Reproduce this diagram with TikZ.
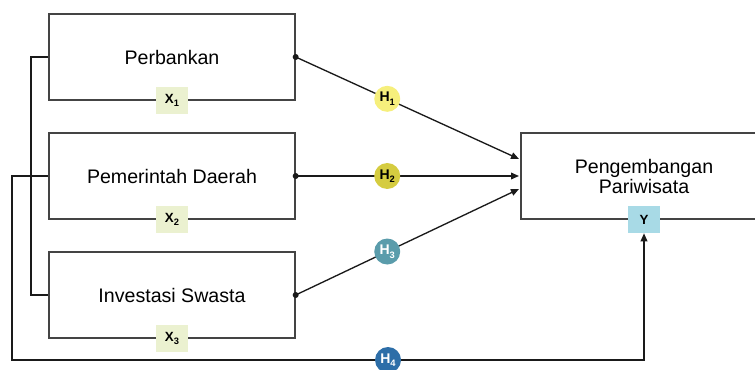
\documentclass[tikz,border=0pt]{standalone}
\usepackage{fontspec}
\setmainfont{Liberation Sans}
\usetikzlibrary{arrows.meta}
\definecolor{lineC}{HTML}{1A1A1A}
\definecolor{boxC}{HTML}{444444}
\definecolor{xlab}{HTML}{EBF1D0}
\definecolor{ylab}{HTML}{A8DAE6}
\definecolor{hA}{HTML}{F6EF7C}
\definecolor{hB}{HTML}{D5CC40}
\definecolor{hC}{HTML}{5A9CAB}
\definecolor{hD}{HTML}{2D6EA8}
\newcommand{\sbs}[1]{\raisebox{-0.25em}{\fontsize{7}{8}\selectfont #1}}
\tikzset{
  varbox/.style={draw=boxC, line width=1pt, minimum width=184.5pt, minimum height=64.5pt, inner sep=0pt, font=\fontsize{14.7}{17}\selectfont, align=center},
  lab/.style={minimum width=24pt, minimum height=20pt, inner sep=0pt, font=\bfseries\fontsize{10}{11}\selectfont},
  hcirc/.style={circle, minimum size=19.5pt, inner sep=0pt, font=\bfseries\fontsize{10.5}{11}\selectfont},
  conn/.style={lineC, line width=1pt},
  arr/.style={conn, -{Triangle[length=6pt,width=5pt]}},
  dotc/.style={circle, fill=lineC, inner sep=0pt, minimum size=4.5pt}
}
\begin{document}
\begin{tikzpicture}[x=0.75pt,y=-0.75pt]
\useasboundingbox (0,0) rectangle (755,370);
\clip (0,0) rectangle (755,370);
% boxes
\node[varbox] (b1) at (172,57) {Perbankan};
\node[varbox] (b2) at (172,176) {Pemerintah Daerah};
\node[varbox] (b3) at (172,295) {Investasi Swasta};
\node[varbox] (by) at (644,176) {Pengembangan\\[-2pt]Pariwisata};
% labels
\node[lab, fill=xlab] (x1) at (b1.south) {X\sbs{1}};
\node[lab, fill=xlab] (x2) at (b2.south) {X\sbs{2}};
\node[lab, fill=xlab] (x3) at (b3.south) {X\sbs{3}};
\node[lab, fill=ylab] (y) at (by.south) {Y};
% dots
\node[dotc] (d1) at (b1.east) {};
\node[dotc] (d2) at (b2.east) {};
\node[dotc] (d3) at (b3.east) {};
% target points
\coordinate (t1) at (519,159);
\coordinate (t2) at (519,176);
\coordinate (t3) at (519,189);
% arrows with hypotheses
\draw[arr] (d1.center) -- node[pos=0.41, hcirc, fill=hA, text=black] (h1) {H\sbs{1}} (t1);
\draw[arr] (d2.center) -- node[pos=0.41, hcirc, fill=hB, text=black] (h2) {H\sbs{2}} (t2);
\draw[arr] (d3.center) -- node[pos=0.41, hcirc, fill=hC, text=white] (h3) {H\sbs{3}} (t3);
% left bracket
\coordinate (k1) at (31,57);
\coordinate (k3) at (31,295);
\draw[conn] (b1.west) -- (k1) -- (k3) -- (b3.west);
% outer loop to Y
\coordinate (o1) at (12,176);
\coordinate (o2) at (12,360);
\coordinate (o3) at (644,360);
\draw[arr] (b2.west) -- (o1) -- (o2) -- (o3) -- (y.south);
\node[hcirc, fill=hD, text=white] (h4) at (388,360) {H\sbs{4}};
\end{tikzpicture}
\end{document}
